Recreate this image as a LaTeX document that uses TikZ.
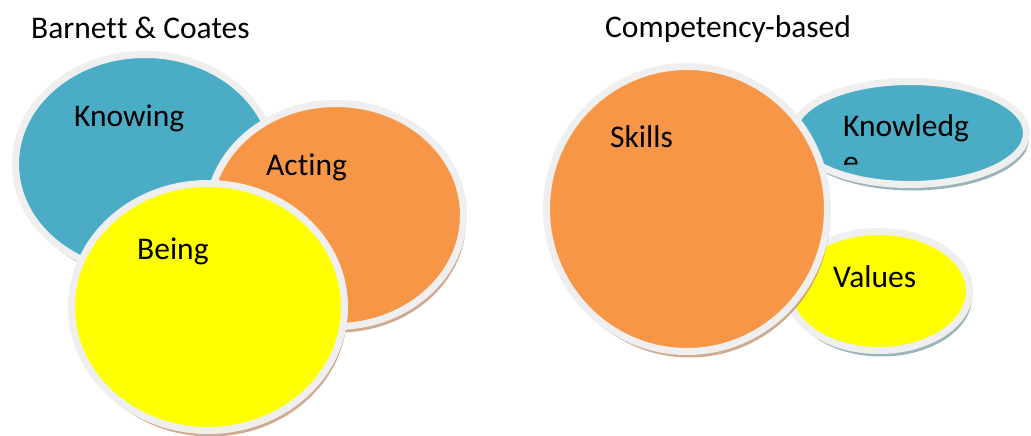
\documentclass[tikz,border=0pt]{standalone}
\usepackage{fontspec}
\setmainfont[Ligatures={NoCommon,NoContextual,NoRare}]{Carlito}
\usetikzlibrary{shapes.geometric,shadows}
\definecolor{cblue}{HTML}{4BACC6}
\definecolor{corange}{HTML}{F79646}
\definecolor{cyellow}{HTML}{FFFF00}
\definecolor{cring}{HTML}{EFEFEF}
\definecolor{shblue}{HTML}{8AA6AE}
\definecolor{shbrown}{HTML}{C99C7E}
\tikzset{
  blob/.style={ellipse, draw=cring, line width=7pt, inner sep=0pt},
  shb/.style={drop shadow={shadow xshift=2.5pt, shadow yshift=-6pt, fill=shblue, opacity=0.85}},
  sho/.style={drop shadow={shadow xshift=2.5pt, shadow yshift=-6pt, fill=shbrown, opacity=0.85}},
  lab/.style={anchor=base west, inner sep=0pt, font=\fontsize{31.5}{38}\selectfont, text=black}
}
\begin{document}
\begin{tikzpicture}[x=1pt,y=-1pt]
\useasboundingbox (0,0) rectangle (1031,436);
% left group
\node[blob, shb, fill=cblue, minimum width=259pt, minimum height=219pt] (knowing) at (145,164) {};
\node[blob, sho, fill=corange, minimum width=255pt, minimum height=223pt] (acting) at (336,215) {};
\node[blob, sho, fill=cyellow, minimum width=273pt, minimum height=247pt] (being) at (208,307) {};
% right group
\node[blob, shb, fill=cblue, minimum width=233pt, minimum height=103pt] (knowledge) at (910,133) {};
\node[blob, shb, fill=cyellow, minimum width=181pt, minimum height=119pt] (values) at (879,291) {};
\node[blob, sho, fill=corange, minimum width=281pt, minimum height=285pt] (skills) at (687,209) {};
% titles
\node[lab] (t1) at (31,39) {Barnet\kern0pt t \& Coates};
\node[lab] (t2) at (605,38) {Competency-based};
% labels
\node[lab] (lknowing) at (74,126) {Knowing};
\node[lab] (lacting) at (266,175) {Ac\kern0pt ting};
\node[lab] (lbeing) at (137,259) {Being};
\node[lab] (lskills) at (610,147) {Skills};
\node[lab] (lvalues) at (833,287) {Values};
\begin{scope}
\clip (830,95) rectangle (1000,164);
\node[lab] (lknow1) at (843,136) {Knowledg};
\node[lab] (lknow2) at (843,172) {e};
\end{scope}
\end{tikzpicture}
\end{document}
